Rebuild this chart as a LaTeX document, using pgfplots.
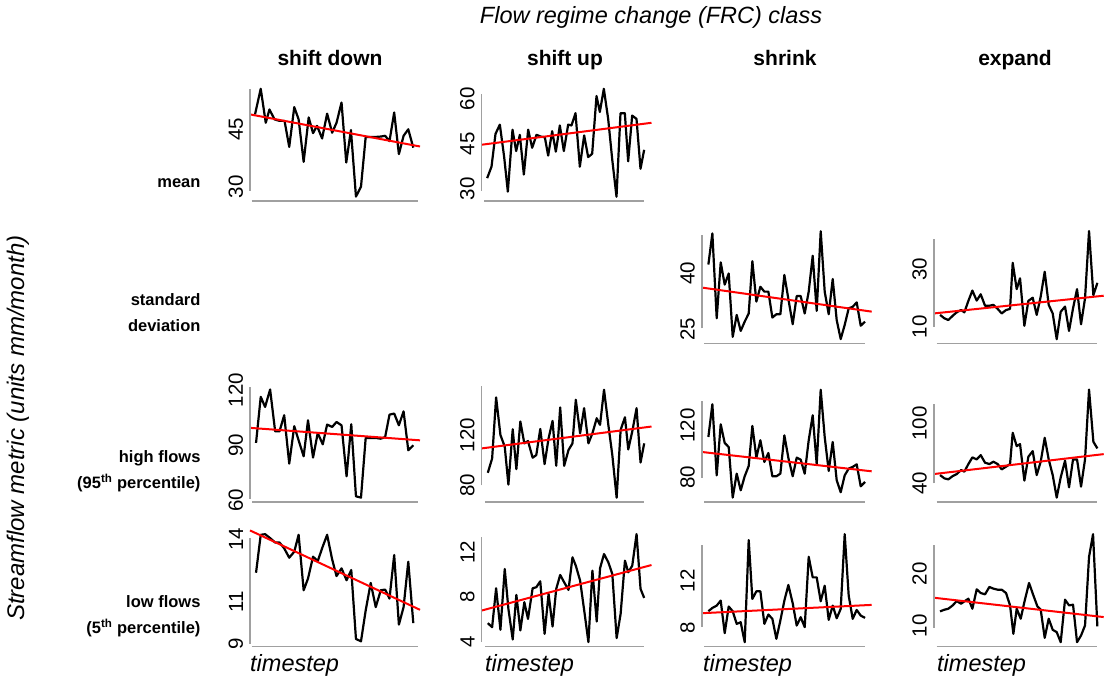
\documentclass[border=0pt]{standalone}
\usepackage{pgfplots}
\pgfplotsset{compat=1.18}
\usepackage{fontspec}
\setmainfont{Liberation Sans}
\definecolor{axgray}{HTML}{A0A0A0}
\pgfplotsset{
  panel/.style={scale only axis, width=170pt, height=116.7pt, anchor=south west,
    axis line style={draw=none}, tick style={draw=none}, major tick length=0pt,
    xtick=\empty, clip=false,
    /pgf/number format/assume math mode=true,
    yticklabel style={rotate=90, anchor=south, inner sep=0pt, outer sep=7pt,
      font=\fontsize{20.5}{20.5}\selectfont}},
  ser/.style={black, line width=2.2pt, line join=round, mark=none},
  reg/.style={red, line width=2.0pt, mark=none},
}
\newcommand{\gl}{\draw[axgray, line width=1.7pt]}
\begin{document}
\begin{tikzpicture}
\useasboundingbox (0,0) rectangle (1106pt,679pt);
% titles
\node[font=\itshape\fontsize{23.5}{23.5}\selectfont, anchor=base] at (651pt,655pt) {Flow regime change (FRC) class};
\node[font=\bfseries\fontsize{21}{21}\selectfont, anchor=base] at (330pt,613pt) {shift down};
\node[font=\bfseries\fontsize{21}{21}\selectfont, anchor=base] at (565pt,613pt) {shift up};
\node[font=\bfseries\fontsize{21}{21}\selectfont, anchor=base] at (785pt,613pt) {shrink};
\node[font=\bfseries\fontsize{21}{21}\selectfont, anchor=base] at (1015pt,613pt) {expand};
\node[font=\itshape\fontsize{24}{24}\selectfont, rotate=90] at (18pt,251pt) {Streamflow metric (units mm/month)};
\node[font=\bfseries\fontsize{16.5}{26}\selectfont, anchor=east, align=right] at (204pt,496pt) {mean};
\node[font=\bfseries\fontsize{16.5}{26}\selectfont, anchor=east, align=right] at (204pt,366pt) {standard\\deviation};
\node[font=\bfseries\fontsize{16.5}{26}\selectfont, anchor=east, align=right] at (204pt,207.5pt) {high flows\\(95\textsuperscript{th} percentile)};
\node[font=\bfseries\fontsize{16.5}{26}\selectfont, anchor=east, align=right] at (204pt,62.5pt) {low flows\\(5\textsuperscript{th} percentile)};
\foreach \xx in {250,485,703,937}{
  \node[font=\itshape\fontsize{23.5}{23.5}\selectfont, anchor=west, inner sep=0pt] at (\xx pt,14pt) {timestep};
}
% ---------- A: shift down, mean
\begin{axis}[panel, at={(250pt,478pt)}, xmin=105, xmax=612, ymin=26.25, ymax=56.77, ytick={30,45}]
\addplot[ser] coordinates {(120,48.9) (137,55.6) (152,46.7) (163,50.2) (178,47.6) (193,47.2) (208,47.2) (222,40.4) (237,50.8) (250,47.6) (265,36.5) (280,48.1) (293,44.0) (305,45.9) (320,42.6) (335,49.1) (350,44.1) (363,46.7) (378,52.0) (392,36.3) (406,44.8) (421,27.4) (436,30.0) (450,43.0) (465,43.0) (480,43.0) (495,43.1) (508,43.3) (521,41.9) (535,49.4) (549,38.5) (563,43.3) (577,45.0) (592,40.2)};
\addplot[reg] coordinates {(105,48.9) (612,40.5)};
\gl (axis cs:105,28.9) -- (axis cs:105,55.5);
\gl (axis cs:110,26.25) -- (axis cs:605,26.25);
\end{axis}
% ---------- B: shift up, mean
\begin{axis}[panel, at={(481.5pt,478pt)}, xmin=110, xmax=620, ymin=26.0, ymax=64.8, ytick={30,45,60}]
\addplot[ser] coordinates {(127,33.6) (140,37.4) (152,48.3) (165,51.4) (178,40.6) (189,29.1) (203,49.7) (214,42.6) (225,48.0) (237,34.8) (250,49.7) (262,43.7) (275,48.0) (288,47.4) (300,47.2) (310,41.1) (322,49.2) (333,42.4) (345,51.1) (357,42.6) (370,51.4) (380,51.1) (392,55.2) (405,37.4) (418,47.8) (430,40.6) (442,41.7) (455,60.9) (465,55.6) (477,63.3) (490,53.3) (502,40.0) (515,27.4) (527,55.2) (540,55.2) (550,39.2) (562,54.4) (575,53.3) (587,36.7) (598,43.0)};
\addplot[reg] coordinates {(110,44.7) (620,52.0)};
\gl (axis cs:110,29.4) -- (axis cs:110,61.7);
\gl (axis cs:118,26.0) -- (axis cs:598,26.0);
\end{axis}
% ---------- C: shrink, sd
\begin{axis}[panel, at={(701.7pt,335.5pt)}, xmin=95, xmax=605, ymin=21.1, ymax=52.6, ytick={25,40}]
\addplot[ser] coordinates {(115,42.4) (127,50.8) (140,27.9) (152,43.0) (164,37.0) (176,40.0) (188,22.9) (200,28.8) (212,24.5) (224,27.0) (236,29.2) (247,43.3) (259,32.4) (271,36.4) (283,35.1) (295,35.1) (307,28.1) (319,29.0) (331,29.0) (343,39.6) (355,33.1) (368,26.3) (380,33.9) (392,33.9) (404,29.2) (416,35.1) (428,44.8) (440,29.9) (452,51.4) (464,35.1) (476,29.0) (488,38.5) (500,27.4) (512,22.3) (524,26.1) (536,30.6) (548,31.0) (560,32.2) (572,25.9) (585,27.0)};
\addplot[reg] coordinates {(95,36.2) (605,29.7)};
\gl (axis cs:95,25.2) -- (axis cs:95,50.5);
\gl (axis cs:103,21.1) -- (axis cs:585,21.1);
\end{axis}
% ---------- D: expand, sd
\begin{axis}[panel, at={(933.7pt,335.5pt)}, xmin=101, xmax=611, ymin=4.1, ymax=44.9, ytick={10,30}]
\addplot[ser] coordinates {(120,14.1) (133,12.9) (145,12.3) (158,13.8) (170,15.0) (183,15.8) (193,15.0) (205,19.0) (217,22.6) (230,19.1) (242,21.3) (255,17.3) (268,17.3) (280,17.6) (293,16.2) (305,14.6) (318,15.8) (330,16.2) (338,32.3) (350,23.1) (360,26.9) (373,10.3) (385,19.0) (398,20.1) (410,14.1) (422,20.5) (434,29.2) (446,17.6) (458,14.6) (470,5.6) (482,15.2) (495,17.0) (507,8.5) (519,16.4) (531,23.1) (543,10.8) (555,19.9) (567,43.4) (580,21.0) (592,25.3)};
\addplot[reg] coordinates {(101,14.6) (611,20.8)};
\gl (axis cs:101,10.0) -- (axis cs:101,40.6);
\gl (axis cs:110,4.1) -- (axis cs:592,4.1);
\end{axis}
% ---------- E: shift down, high
\begin{axis}[panel, at={(250pt,177pt)}, xmin=105, xmax=612, ymin=59.1, ymax=122.7, ytick={60,90,120}]
\addplot[ser] coordinates {(123,91.3) (137,116.4) (150,110.9) (165,120.4) (180,97.6) (193,97.6) (207,106.4) (222,80.0) (237,100.4) (250,92.7) (265,84.0) (278,103.6) (293,83.3) (307,96.7) (322,90.5) (335,101.3) (350,100.0) (363,102.7) (378,100.9) (393,73.1) (407,101.5) (421,62.2) (436,61.5) (450,94.0) (465,94.0) (480,94.0) (495,93.6) (508,94.5) (521,106.7) (535,107.3) (549,100.9) (563,108.5) (577,87.3) (592,90.0)};
\addplot[reg] coordinates {(105,99.5) (612,92.7)};
\gl (axis cs:105,60.9) -- (axis cs:105,121.8);
\gl (axis cs:112,59.1) -- (axis cs:605,59.1);
\end{axis}
% ---------- F: shift up, high
\begin{axis}[panel, at={(481.5pt,177pt)}, xmin=108, xmax=620, ymin=66.7, ymax=159.5, ytick={80,120}]
\addplot[ser] coordinates {(127,89.9) (140,101.3) (152,149.9) (165,120.0) (178,110.7) (189,80.5) (202,124.5) (213,92.8) (225,130.7) (237,113.3) (248,115.2) (262,101.9) (273,104.0) (285,124.8) (298,96.8) (310,117.3) (322,131.2) (333,95.5) (345,141.9) (357,95.5) (370,108.0) (382,113.3) (392,148.0) (405,121.3) (417,141.3) (430,113.3) (442,121.3) (455,133.3) (465,128.0) (477,156.0) (490,128.0) (502,104.0) (515,70.1) (527,124.0) (540,134.1) (550,108.5) (562,122.7) (575,141.3) (587,98.1) (598,113.3)};
\addplot[reg] coordinates {(108,109.3) (620,126.7)};
\gl (axis cs:108,80.0) -- (axis cs:108,158.7);
\gl (axis cs:118,66.7) -- (axis cs:598,66.7);
\end{axis}
% ---------- G: shrink, high
\begin{axis}[panel, at={(701.7pt,177pt)}, xmin=95, xmax=605, ymin=61.0, ymax=150.8, ytick={80,120}]
\addplot[ser] coordinates {(115,111.0) (127,136.2) (140,81.5) (152,120.8) (164,106.4) (176,103.3) (188,64.4) (200,82.8) (212,70.0) (224,80.8) (236,88.7) (247,119.5) (259,95.1) (271,108.5) (283,91.8) (295,98.7) (307,80.8) (319,80.8) (331,82.8) (343,112.3) (355,94.9) (368,80.8) (380,95.1) (392,93.6) (404,82.8) (416,108.5) (428,127.7) (440,90.0) (452,147.4) (464,111.0) (476,84.9) (488,107.2) (500,77.7) (512,68.5) (524,81.5) (536,86.7) (548,88.0) (560,90.0) (572,73.1) (585,76.4)};
\addplot[reg] coordinates {(95,99.5) (605,84.6)};
\gl (axis cs:95,79.7) -- (axis cs:95,138.7);
\gl (axis cs:103,61.0) -- (axis cs:585,61.0);
\end{axis}
% ---------- H: expand, high
\begin{axis}[panel, at={(933.7pt,177pt)}, xmin=101, xmax=611, ymin=21.3, ymax=138.3, ytick={40,100}]
\addplot[ser] coordinates {(120,48.3) (133,45.0) (145,44.0) (158,47.3) (170,49.3) (183,53.3) (193,51.7) (205,59.3) (217,66.0) (230,64.0) (242,68.3) (255,60.7) (268,59.3) (280,61.7) (293,59.3) (305,54.0) (318,56.7) (330,59.3) (338,90.7) (350,77.3) (360,79.3) (373,42.7) (385,66.7) (398,72.3) (410,48.3) (422,61.7) (434,85.7) (446,64.0) (458,48.3) (470,25.7) (482,46.0) (495,62.7) (507,36.0) (519,64.0) (531,64.0) (543,36.7) (555,64.0) (567,134.0) (580,81.7) (592,75.0)};
\addplot[reg] coordinates {(101,49.3) (611,69.3)};
\gl (axis cs:101,40) -- (axis cs:101,120);
\gl (axis cs:110,21.3) -- (axis cs:592,21.3);
\end{axis}
% ---------- I: shift down, low
\begin{axis}[panel, at={(250pt,32.5pt)}, xmin=105, xmax=612, ymin=8.85, ymax=14.45, ytick={9,11,14}]
\addplot[ser] coordinates {(123,12.39) (137,14.21) (150,14.24) (165,14.05) (180,13.84) (193,13.84) (207,13.56) (222,13.11) (237,13.40) (250,14.21) (265,11.55) (278,12.11) (293,13.16) (307,12.95) (322,13.65) (335,14.21) (350,13.03) (363,12.23) (378,12.60) (393,12.03) (407,12.52) (421,9.21) (436,9.10) (450,10.58) (465,11.90) (480,10.74) (495,11.55) (508,11.58) (521,11.15) (535,13.24) (549,9.90) (563,10.74) (577,12.92) (592,9.97)};
\addplot[reg] coordinates {(105,14.42) (612,10.61)};
\gl (axis cs:105,8.97) -- (axis cs:105,14.05);
\gl (axis cs:110,8.85) -- (axis cs:605,8.85);
\end{axis}
% ---------- J: shift up, low
\begin{axis}[panel, at={(481.5pt,32.5pt)}, xmin=108, xmax=620, ymin=3.61, ymax=14.01, ytick={4,8,12}]
\addplot[ser] coordinates {(127,5.69) (140,5.33) (152,8.80) (165,5.10) (178,10.52) (189,6.96) (202,4.24) (213,8.21) (225,5.04) (237,7.56) (248,6.07) (262,8.80) (273,8.89) (285,9.42) (298,4.74) (310,8.30) (322,5.39) (333,8.74) (345,9.99) (357,9.33) (370,8.65) (382,11.56) (392,10.81) (405,9.48) (418,6.67) (430,4.00) (442,10.37) (455,5.84) (465,10.58) (477,11.85) (490,11.11) (502,10.07) (515,4.36) (527,6.52) (540,11.26) (550,10.22) (562,10.81) (575,13.63) (587,8.74) (598,7.94)};
\addplot[reg] coordinates {(108,6.81) (620,10.87)};
\gl (axis cs:108,4.0) -- (axis cs:108,13.33);
\gl (axis cs:118,3.61) -- (axis cs:598,3.61);
\end{axis}
% ---------- K: shrink, low
\begin{axis}[panel, at={(701.7pt,32.5pt)}, xmin=95, xmax=605, ymin=6.38, ymax=16.34, ytick={8,12}]
\addplot[ser] coordinates {(115,9.39) (127,9.67) (140,9.87) (152,10.30) (164,7.52) (176,9.79) (188,9.39) (200,8.31) (212,8.45) (224,6.75) (236,15.46) (247,10.44) (259,11.09) (271,11.09) (283,8.31) (295,9.11) (307,8.74) (319,7.04) (331,8.60) (343,10.30) (355,11.63) (368,10.07) (380,8.17) (392,8.88) (404,8.03) (416,14.04) (428,12.28) (440,12.28) (452,10.24) (464,11.57) (476,8.65) (488,9.87) (500,8.79) (512,9.59) (524,15.97) (536,10.72) (548,8.74) (560,9.50) (572,9.02) (585,8.82)};
\addplot[reg] coordinates {(95,9.22) (605,9.93)};
\gl (axis cs:95,8.03) -- (axis cs:95,15.06);
\gl (axis cs:103,6.38) -- (axis cs:585,6.38);
\end{axis}
% ---------- L: expand, low
\begin{axis}[panel, at={(933.7pt,32.5pt)}, xmin=101, xmax=611, ymin=6.03, ymax=28.40, ytick={10,20}]
\addplot[ser] coordinates {(120,12.76) (133,13.08) (145,13.27) (158,13.91) (170,14.74) (183,14.23) (193,14.68) (205,15.19) (217,13.27) (230,16.99) (242,16.28) (255,16.03) (268,17.44) (280,17.12) (293,16.92) (305,16.92) (318,16.28) (330,13.91) (340,8.46) (350,13.27) (362,11.35) (373,14.55) (387,18.21) (400,15.83) (412,13.72) (422,13.08) (434,7.69) (446,11.35) (458,9.23) (470,8.78) (482,6.86) (495,15.0) (507,13.91) (519,14.04) (531,6.86) (543,8.14) (555,10.06) (567,23.21) (579,27.56) (592,9.87)};
\addplot[reg] coordinates {(101,15.38) (611,11.67)};
\gl (axis cs:101,9.62) -- (axis cs:101,25.45);
\gl (axis cs:110,6.03) -- (axis cs:592,6.03);
\end{axis}
\end{tikzpicture}
\end{document}
